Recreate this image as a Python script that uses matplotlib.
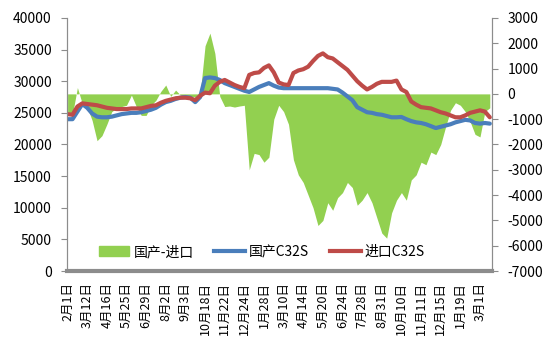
import matplotlib
matplotlib.use('Agg')
import matplotlib.pyplot as plt
import numpy as np
from matplotlib.patches import Patch

plt.rcParams['font.family'] = ['Noto Sans CJK SC', 'DejaVu Sans']
plt.rcParams['axes.unicode_minus'] = False

# x labels, one every 4 points
dateLabels = ['2月1日', '3月12日', '4月16日', '5月25日', '6月29日', '8月2日', '9月3日',
              '10月18日', '11月22日', '12月24日', '1月28日', '3月10日', '4月14日',
              '5月20日', '6月24日', '7月28日', '8月31日', '10月10日', '11月11日',
              '12月15日', '1月19日', '3月1日']

# 国产-进口 (right axis)
diff = [-800, -800, 250, -400, -520, -1050, -1850, -1650, -1200, -700,
        -560, -500, -450, -50, -500, -850, -850, -450, -250, 100,
        350, -100, 150, -50, -100, -100, -120, 0, 1900, 2400,
        1600, -100, -500, -480, -520, -480, -450, -3000, -2350, -2400,
        -2700, -2500, -1000, -450, -700, -1200, -2600, -3200, -3500, -4000,
        -4500, -5200, -5000, -4300, -4600, -4100, -3900, -3500, -3700, -4400,
        -4200, -3900, -4300, -4900, -5500, -5700, -4700, -4200, -3900, -4200,
        -3400, -3200, -2700, -2800, -2300, -2400, -2000, -1300, -650, -350,
        -450, -700, -1100, -1600, -1700, -700, -550]

# 国产C32S (left axis)
dom = [24000, 24000, 25200, 26400, 25800, 24900, 24400, 24300, 24300, 24400,
       24600, 24800, 24900, 25000, 25000, 25100, 25300, 25500, 25800, 26300,
       26700, 26900, 27200, 27400, 27500, 27400, 26700, 27500, 30500, 30600,
       30500, 30200, 29700, 29400, 29100, 28800, 28500, 28300, 28700, 29100,
       29400, 29700, 29300, 29000, 28900, 28900, 28900, 28900, 28900, 28900,
       28900, 28900, 28900, 28900, 28800, 28700, 28200, 27600, 27000, 25900,
       25500, 25100, 25000, 24800, 24700, 24500, 24300, 24300, 24350, 24000,
       23700, 23500, 23400, 23200, 22900, 22600, 22800, 23000, 23200, 23500,
       23700, 23900, 23800, 23400, 23300, 23400, 23300]

# 进口C32S (left axis)
imp = [24800, 24700, 26000, 26500, 26400, 26300, 26200, 26000, 25800, 25700,
       25600, 25600, 25600, 25700, 25700, 25700, 25900, 26100, 26200, 26600,
       26900, 27100, 27300, 27400, 27400, 27300, 27000, 27700, 28200, 28100,
       29300, 29900, 30200, 29800, 29400, 29100, 28900, 31000, 31300, 31400,
       32100, 32500, 31400, 29800, 29500, 29400, 31300, 31700, 31900, 32300,
       33200, 34000, 34400, 33800, 33600, 33000, 32400, 31800, 30900, 30000,
       29300, 28700, 29100, 29600, 29900, 29900, 29900, 30100, 28700, 28300,
       26800, 26300, 25900, 25800, 25700, 25400, 25100, 24900, 24600, 24300,
       24300, 24600, 25000, 25200, 25400, 25200, 24300]

x = np.arange(len(dom))
green, blue, red, grey = '#92D050', '#4A7EBB', '#BE4B48', '#8C8C8C'

fig = plt.figure(figsize=(5.5, 3.52), dpi=100)
ax = fig.add_axes([0.122, 0.230, 0.773, 0.719])
ax2 = ax.twinx()

ax2.fill_between(x, 0, diff, color=green, lw=0)
ax.plot(x, dom, color=blue, lw=3, solid_capstyle='round')
ax.plot(x, imp, color=red, lw=3, solid_capstyle='round')

# lines above the area
ax.set_zorder(ax2.get_zorder() + 1)
ax.patch.set_visible(False)

ax.set_xlim(-0.1, 86.5)
ax.set_ylim(0, 40000)
ax.set_yticks(np.arange(0, 40001, 5000))
ax2.set_ylim(-7000, 3000)
ax2.set_yticks(np.arange(-7000, 3001, 1000))

ax.set_xticks(np.arange(0, 4 * len(dateLabels), 4))
ax.set_xticklabels(dateLabels, rotation=90, fontsize=9)
ax.tick_params(axis='x', length=0, pad=8)
ax.tick_params(axis='y', labelsize=10, length=4, color=grey, pad=7)
ax2.tick_params(axis='y', labelsize=10, length=4, color=grey, pad=7)

for a in (ax, ax2):
    a.spines['top'].set_visible(False)
    a.spines['left'].set_color(grey)
    a.spines['right'].set_color(grey)
    a.spines['left'].set_linewidth(0.8)
    a.spines['right'].set_linewidth(0.8)
ax.spines['bottom'].set_color(grey)
ax.spines['bottom'].set_linewidth(3)
ax2.spines['bottom'].set_visible(False)

handles = [Patch(color=green), plt.Line2D([], [], color=blue, lw=3),
           plt.Line2D([], [], color=red, lw=3)]
ax.legend(handles, ['国产-进口', '国产C32S', '进口C32S'], ncol=3, frameon=False,
          loc='center', bbox_to_anchor=(0.476, 0.284), bbox_transform=fig.transFigure,
          fontsize=10, handlelength=2.2, handletextpad=0.3, columnspacing=1.5)

fig.savefig('out.png', dpi=100)
